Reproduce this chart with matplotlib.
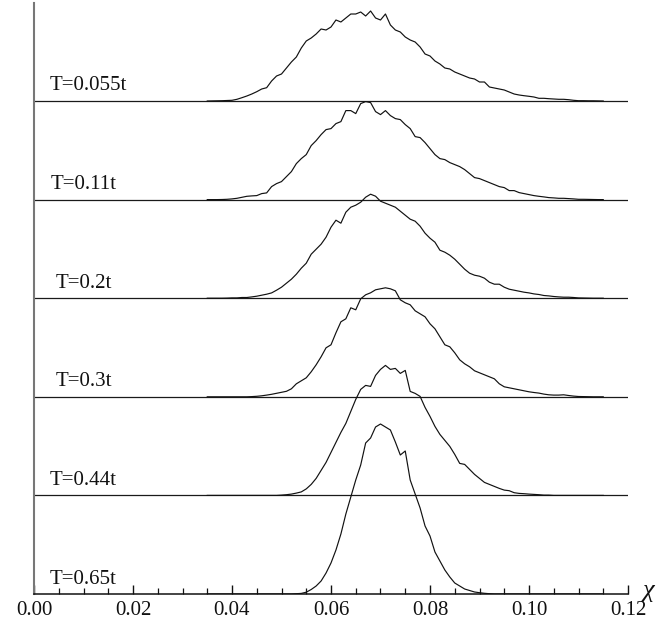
import numpy as np
import matplotlib
matplotlib.use("Agg")
import matplotlib.pyplot as plt
from matplotlib.ticker import MultipleLocator, FormatStrFormatter

plt.rcParams['font.family'] = ['Liberation Serif', 'DejaVu Serif']

# histogram bin centres in chi (0.035 ... 0.115, width 0.001)
chi = np.round(np.arange(35, 116) * 0.001, 3)

labels = ["T=0.055t", "T=0.11t", "T=0.2t", "T=0.3t", "T=0.44t", "T=0.65t"]

# distribution of chi at each temperature (arbitrary units)
p_055 = [0, 0.1, 0.2, 0.3, 0.5,
         0.7, 1.7, 3.3, 5, 7, 9.3, 12, 13.3, 20, 25,
         27, 33, 39, 44, 53, 60, 63, 67, 72, 71,
         74, 81, 79, 83, 87, 87, 89, 85, 90, 83,
         81, 87, 76, 71, 69, 64, 61, 59, 54, 47,
         45, 40, 37, 33, 32, 29, 27, 25, 23, 22,
         19, 19, 14, 13, 12, 11, 9, 7, 6, 5.3,
         4.7, 4, 2.7, 2.7, 2.3, 2, 1.7, 1.7, 1.3, 0.7,
         0.3,
         0.3, 0.2, 0.2, 0.1, 0]

p_011 = [0, 0, 0, 0.1, 0.3,
         0.7, 1.3, 2.3, 3.3, 3.7, 4, 6, 6.7, 13, 16,
         18, 23, 28, 36, 41, 45, 54, 59, 65, 70,
         71, 76, 78, 89, 89, 86, 96, 98, 97, 88,
         85, 89, 84, 81, 80, 75, 71, 63, 62, 57,
         51, 45, 41, 40, 37, 35, 33, 30, 26, 22,
         21, 19, 17, 15, 13, 12, 9, 9, 7, 6,
         5, 4, 3.3, 2.7, 2, 1.7, 1.3, 1.3, 1, 0.7,
         0.3,
         0.3, 0.2, 0.1, 0, 0]

p_02 = [0, 0, 0, 0, 0.1,
        0.3, 0.3, 0.7, 0.7, 1.3, 2, 3, 4, 5.3, 8,
        11, 15, 19, 24, 30, 35, 44, 49, 54, 61,
        71, 78, 75, 86, 91, 93, 96, 101, 104, 102,
        97, 95, 93, 91, 87, 83, 79, 77, 72, 65,
        60, 56, 48, 46, 43, 39, 34, 29, 25, 23,
        22, 20, 16, 14, 14, 11, 9, 8, 7, 6,
        5.3, 4.3, 3.7, 2.7, 2.3, 1.7, 1.3, 1, 1, 0.7,
        0.3,
        0.2, 0.1, 0, 0, 0]

p_03 = [0, 0, 0, 0, 0,
        0, 0, 0, 0, 0.2, 0.5, 1, 1.7, 2.5, 3.5,
        4.5, 5.5, 8, 13, 16, 19, 25, 32, 40, 49,
        52, 64, 75, 78, 89, 87, 98, 102, 104, 107,
        108, 109, 108, 106, 97, 94, 92, 86, 83, 80,
        73, 68, 60, 52, 50, 44, 37, 33, 30, 26,
        24, 22, 20, 18, 13, 10, 9, 8, 7, 6,
        5, 4.3, 3.7, 2.7, 2, 1.7, 1.7, 2, 1.3, 0.7,
        0.3,
        0.2, 0.1, 0, 0, 0]

p_044 = [0, 0, 0, 0, 0,
         0, 0, 0, 0, 0, 0, 0, 0, 0, 0,
         0.3, 0.7, 1.3, 2.3, 3.5, 6.5, 11, 17, 25, 33,
         43, 53, 63, 72, 84, 96, 106, 110, 109, 120,
         126, 130, 126, 127, 122, 125, 104, 102, 99, 88,
         79, 69, 61, 55, 49, 41, 32, 31, 26, 21,
         17, 13, 11, 9, 7, 5.3, 4.7, 2.7, 2, 1.7,
         1.3, 1, 0.7, 0.3, 0.3, 0, 0, 0, 0, 0,
         0,
         0, 0, 0, 0, 0]

p_065 = [0, 0, 0, 0, 0,
         0, 0, 0, 0, 0, 0, 0, 0, 0, 0,
         0, 0, 0, 0.3, 0.6, 1.8, 4.5, 8, 13, 21,
         31, 44, 60, 80, 97, 114, 129, 151, 156, 167,
         170, 167, 164, 152, 139, 143, 114, 100, 86, 68,
         58, 42, 33, 24, 17, 11, 8, 5, 3.5, 2,
         1.3, 0.7, 0.3, 0, 0, 0, 0, 0, 0, 0,
         0, 0, 0, 0, 0, 0, 0, 0, 0, 0,
         0,
         0, 0, 0, 0, 0]

series = [p_055, p_011, p_02, p_03, p_044, p_065]

step = 98.6                      # vertical spacing between stacked curves
label_x = [0.0109, 0.0100, 0.0100, 0.0100, 0.0100, 0.0100]

fig = plt.figure(figsize=(6.68, 6.25), dpi=100)
ax = fig.add_axes([34 / 668, 31 / 625, 594 / 668, 591 / 625])

n = len(series)
for i, (lab, vals) in enumerate(zip(labels, series)):
    base = (n - 1 - i) * step
    if base > 0:
        ax.plot([0, 0.12], [base, base], color='#1a1a1a', lw=0.9,
                solid_capstyle='butt', zorder=2)
    ax.plot(chi, base + np.asarray(vals, dtype=float), color='#111111',
            lw=0.85, zorder=3)
    ax.text(label_x[i], base + 10.5, lab, fontsize=15, ha='center',
            va='baseline', color='#111111')

ax.set_xlim(0, 0.12)
ax.set_ylim(0, 591)

for s in ('top', 'right'):
    ax.spines[s].set_visible(False)
ax.spines['left'].set_color('#777777')
ax.spines['left'].set_linewidth(1.5)
ax.spines['bottom'].set_color('#111111')
ax.spines['bottom'].set_linewidth(1.1)

ax.set_yticks([])
ax.xaxis.set_major_locator(MultipleLocator(0.02))
ax.xaxis.set_minor_locator(MultipleLocator(0.005))
ax.xaxis.set_major_formatter(FormatStrFormatter('%.2f'))
ax.tick_params(axis='x', which='major', direction='in', length=6.5,
               width=1, labelsize=15, pad=5, colors='#111111')
ax.tick_params(axis='x', which='minor', direction='in', length=4,
               width=0.9, colors='#111111')

ax.text(0.1240, 3, "χ", fontsize=19, fontstyle='italic', ha='center',
        va='center', color='#111111', clip_on=False)

fig.savefig("out.png", dpi=100)
